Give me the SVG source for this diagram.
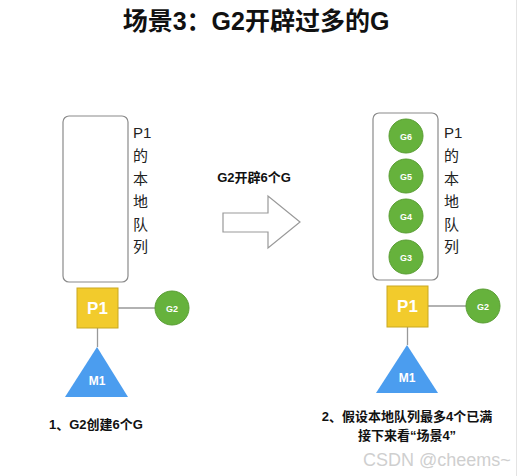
<svg xmlns="http://www.w3.org/2000/svg" width="521" height="476" viewBox="0 0 521 476">
<style>
.t{font-family:"Liberation Sans","Noto Sans CJK SC",sans-serif}
.q{fill:#fff;stroke:#8a8a8a;stroke-width:1.2}
.lbl{font-family:"Liberation Sans","Noto Sans CJK SC",sans-serif;font-size:15px;fill:#222}
.p{fill:#f2cb2c;stroke:#c9a820;stroke-width:1}
.g{fill:#66b23c;stroke:#5a9e34;stroke-width:1}
.m{fill:#4b9def}
.wt{font-family:"Liberation Sans",sans-serif;font-weight:bold;fill:#fff;text-anchor:middle}
.ln{stroke:#999;stroke-width:1.3;fill:none}
.cap{font-family:"Liberation Sans","Noto Sans CJK SC",sans-serif;font-weight:bold;font-size:13px;fill:#111}
</style>
<rect width="521" height="476" fill="#fff"/>
<line x1="516.5" y1="0" x2="516.5" y2="476" stroke="#e4e4e4" stroke-width="1"/>
<text class="t" x="256" y="30" font-size="25" font-weight="bold" text-anchor="middle" fill="#111">场景3：G2开辟过多的G</text>

<g id="connectors">
<line class="ln" x1="118" y1="308" x2="155" y2="308"/>
<line class="ln" x1="97.5" y1="328" x2="97.5" y2="347"/>
<line class="ln" x1="428" y1="306" x2="466" y2="306"/>
<line class="ln" x1="407.5" y1="327" x2="407.5" y2="345"/>
</g>

<g id="queue-left">
<rect class="q" x="63" y="116" width="65" height="166" rx="6"/>
<text class="lbl" x="133" y="138">P1</text>
<text class="lbl" x="133" y="161">的</text>
<text class="lbl" x="133" y="184">本</text>
<text class="lbl" x="133" y="207">地</text>
<text class="lbl" x="133" y="230">队</text>
<text class="lbl" x="133" y="252">列</text>
</g>
<g id="p1-left">
<rect class="p" x="77" y="288" width="41" height="40"/>
<text class="wt" x="97.5" y="314" font-size="17">P1</text>
</g>
<g id="g2-left">
<circle class="g" cx="172" cy="308" r="17"/>
<text class="wt" x="172" y="311.5" font-size="9">G2</text>
</g>
<g id="m1-left">
<polygon class="m" points="97,347 128,397 65,397"/>
<text class="wt" x="97" y="385" font-size="12">M1</text>
</g>
<g id="caption-left">
<text class="cap" x="49" y="429">1、G2创建6个G</text>
</g>

<g id="arrow">
<text class="cap" x="254" y="182" text-anchor="middle">G2开辟6个G</text>
<polygon points="223,213 268,213 268,196 300,222 268,248 268,232 223,232" fill="#fff" stroke="#999" stroke-width="1.2"/>
</g>

<g id="queue-right">
<rect class="q" x="373" y="113" width="65" height="167" rx="6"/>
<text class="lbl" x="444" y="138">P1</text>
<text class="lbl" x="444" y="161">的</text>
<text class="lbl" x="444" y="184">本</text>
<text class="lbl" x="444" y="207">地</text>
<text class="lbl" x="444" y="230">队</text>
<text class="lbl" x="444" y="252">列</text>
</g>
<g id="g6"><circle class="g" cx="406" cy="136" r="17"/><text class="wt" x="406" y="139.5" font-size="9">G6</text></g>
<g id="g5"><circle class="g" cx="406" cy="176" r="17"/><text class="wt" x="406" y="179.5" font-size="9">G5</text></g>
<g id="g4"><circle class="g" cx="406" cy="216" r="17"/><text class="wt" x="406" y="219.5" font-size="9">G4</text></g>
<g id="g3"><circle class="g" cx="406" cy="257" r="17"/><text class="wt" x="406" y="260.5" font-size="9">G3</text></g>
<g id="p1-right">
<rect class="p" x="387" y="286" width="41" height="41"/>
<text class="wt" x="407.5" y="312" font-size="17">P1</text>
</g>
<g id="g2-right">
<circle class="g" cx="483" cy="306" r="17"/>
<text class="wt" x="483" y="309.5" font-size="9">G2</text>
</g>
<g id="m1-right">
<polygon class="m" points="407,345 438,393 376,393"/>
<text class="wt" x="407" y="382" font-size="12">M1</text>
</g>
<g id="caption-right">
<text class="cap" x="407" y="421" text-anchor="middle">2、假设本地队列最多4个已满</text>
<text class="cap" x="407" y="440" text-anchor="middle">接下来看“场景4”</text>
</g>
<text class="t" x="363" y="466" font-size="18" fill="#cfcfcf">CSDN @cheems~</text>
</svg>
